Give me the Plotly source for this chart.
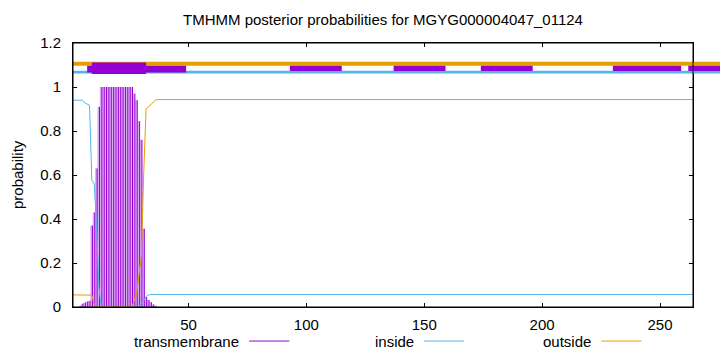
import plotly.graph_objects as go

TITLE = "TMHMM posterior probabilities for MGYG000004047_01124"
Y_LABEL = "probability"
X_RANGE = [1, 264]
Y_RANGE = [0, 1.2]
X_TICKS = [50, 100, 150, 200, 250]
Y_TICKS = [0, 0.2, 0.4, 0.6, 0.8, 1.0, 1.2]
Y_TICK_LABELS = ["0", "0.2", "0.4", "0.6", "0.8", "1", "1.2"]

# transmembrane posterior (impulses); zero after residue 36
TM_RES = list(range(1, 37))
TM_PROB = [0, 0, 0, 0.005, 0.015, 0.02, 0.025, 0.028, 0.37, 0.43, 0.63, 0.91,
           1, 1, 1, 1, 1, 1, 1, 1, 1, 1, 1, 1, 1, 1,
           0.97, 0.94, 0.845, 0.76, 0.356, 0.045, 0.032, 0.022, 0.012, 0.005]

# inside posterior (flat after residue 34 to the end)
INSIDE_RES = [1, 2, 3, 4, 5, 6, 7, 8, 9, 10, 11, 12, 13, 28, 29, 30, 31, 32, 33, 34, 264]
INSIDE_PROB = [0.94, 0.94, 0.94, 0.94, 0.94, 0.928, 0.922, 0.917, 0.576, 0.56, 0.37, 0.09,
               0.0, 0.0, 0.005, 0.015, 0.03, 0.048, 0.055, 0.057, 0.057]

# outside posterior (flat after residue 37 to the end)
OUTSIDE_RES = [1, 2, 3, 4, 5, 6, 7, 8, 9, 10, 11, 26, 27, 28, 29, 30, 31, 32, 33, 34, 35, 36, 37, 264]
OUTSIDE_PROB = [0.055, 0.055, 0.055, 0.055, 0.055, 0.055, 0.055, 0.055, 0.054, 0.01, 0.0, 0.0,
                0.03, 0.06, 0.15, 0.23, 0.61, 0.9, 0.91, 0.92, 0.93, 0.94, 0.943, 0.943]

# predicted topology band above the curves (residue ranges)
BAND_END = 276
OUTSIDE_BAND = (1, BAND_END)
INSIDE_BAND = (1, BAND_END)
TM_SEGMENTS = [(7, 49), (93, 115), (137, 159), (174, 196), (230, 259), (262, BAND_END)]
TM_CORE = (9, 32)

LEGEND_NAMES = ["transmembrane", "inside", "outside"]
C_TM = "#9400D3"
C_TM_LIGHT = "#D9A9F1"
C_IN = "#56B4E9"
C_OUT = "#E69F00"
LEGEND_COLORS = [C_TM, C_IN, C_OUT]

FONT = "Liberation Sans, Arial, sans-serif"


def px(v):
    return (v - X_RANGE[0]) / (X_RANGE[1] - X_RANGE[0])


def py(v):
    return (v - Y_RANGE[0]) / (Y_RANGE[1] - Y_RANGE[0])


def impulses(xs, ys, shift):
    ix, iy = [], []
    for x, y in zip(xs, ys):
        ix += [x + shift, x + shift, None]
        iy += [0, y, None]
    return ix, iy


fig = go.Figure()
lx, ly = impulses(TM_RES, TM_PROB, -0.15)
fig.add_trace(go.Scatter(x=lx, y=ly, mode="lines", connectgaps=False,
                         line=dict(color=C_TM_LIGHT, width=2.2), showlegend=False))
dx, dy = impulses(TM_RES, TM_PROB, 0.25)
fig.add_trace(go.Scatter(x=dx, y=dy, mode="lines", connectgaps=False,
                         line=dict(color=C_TM, width=1), showlegend=False))
fig.add_trace(go.Scatter(x=INSIDE_RES, y=INSIDE_PROB, mode="lines",
                         line=dict(color=C_IN, width=1), showlegend=False))
fig.add_trace(go.Scatter(x=OUTSIDE_RES, y=OUTSIDE_PROB, mode="lines",
                         line=dict(color=C_OUT, width=1), showlegend=False))

shapes = []


def rect(x0, x1, y0, y1, color):
    shapes.append(dict(type="rect", xref="paper", yref="paper",
                       x0=px(x0), x1=px(x1), y0=py(y0), y1=py(y1),
                       fillcolor=color, line=dict(width=0), layer="above"))


rect(OUTSIDE_BAND[0], OUTSIDE_BAND[1], 1.097, 1.115, C_OUT)
rect(INSIDE_BAND[0], INSIDE_BAND[1], 1.061, 1.074, C_IN)
for i, (a, b) in enumerate(TM_SEGMENTS):
    rect(a, b, 1.066 if i == 0 else 1.073, 1.097, C_TM)
rect(TM_CORE[0], TM_CORE[1], 1.059, 1.111, C_TM)

# plot frame on top of the band
shapes.append(dict(type="rect", xref="paper", yref="paper", x0=0, x1=1, y0=0, y1=1,
                   line=dict(color="black", width=1), fillcolor="rgba(0,0,0,0)", layer="above"))

annotations = []
legend_text_end = [0.271, 0.553, 0.839]
legend_y = -0.129
for name, color, xe in zip(LEGEND_NAMES, LEGEND_COLORS, legend_text_end):
    annotations.append(dict(text=name, x=xe, y=legend_y, xref="paper", yref="paper",
                            xanchor="right", yanchor="middle", showarrow=False,
                            font=dict(family=FONT, size=15, color="black")))
    shapes.append(dict(type="line", xref="paper", yref="paper",
                       x0=xe + 0.013, x1=xe + 0.078, y0=legend_y, y1=legend_y,
                       line=dict(color=color, width=1)))

annotations.append(dict(text=Y_LABEL, x=-0.0903, y=0.5, xref="paper", yref="paper",
                        textangle=-90, xanchor="center", yanchor="middle", showarrow=False,
                        font=dict(family=FONT, size=15, color="black")))

fig.update_layout(
    width=720, height=352,
    margin=dict(l=73, r=27, t=43, b=45),
    paper_bgcolor="white", plot_bgcolor="white",
    title=dict(text=TITLE, x=0.5, xref="paper", y=1 - 20 / 352, yref="container",
               xanchor="center", yanchor="middle",
               font=dict(family=FONT, size=15, color="black")),
    font=dict(family=FONT, size=15, color="black"),
    shapes=shapes,
    annotations=annotations,
    xaxis=dict(range=X_RANGE, tickvals=X_TICKS, ticks="inside", ticklen=4,
               tickcolor="black", showline=True, linecolor="black", linewidth=1,
               mirror="ticks", showgrid=False, zeroline=False,
               tickfont=dict(family=FONT, size=15), ticklabelstandoff=4),
    yaxis=dict(range=Y_RANGE, tickvals=Y_TICKS, ticktext=Y_TICK_LABELS, ticks="inside",
               ticklen=4, tickcolor="black", showline=True, linecolor="black", linewidth=1,
               mirror="ticks", showgrid=False, zeroline=False,
               tickfont=dict(family=FONT, size=15), ticklabelstandoff=8),
)

fig.write_html("out.html")
